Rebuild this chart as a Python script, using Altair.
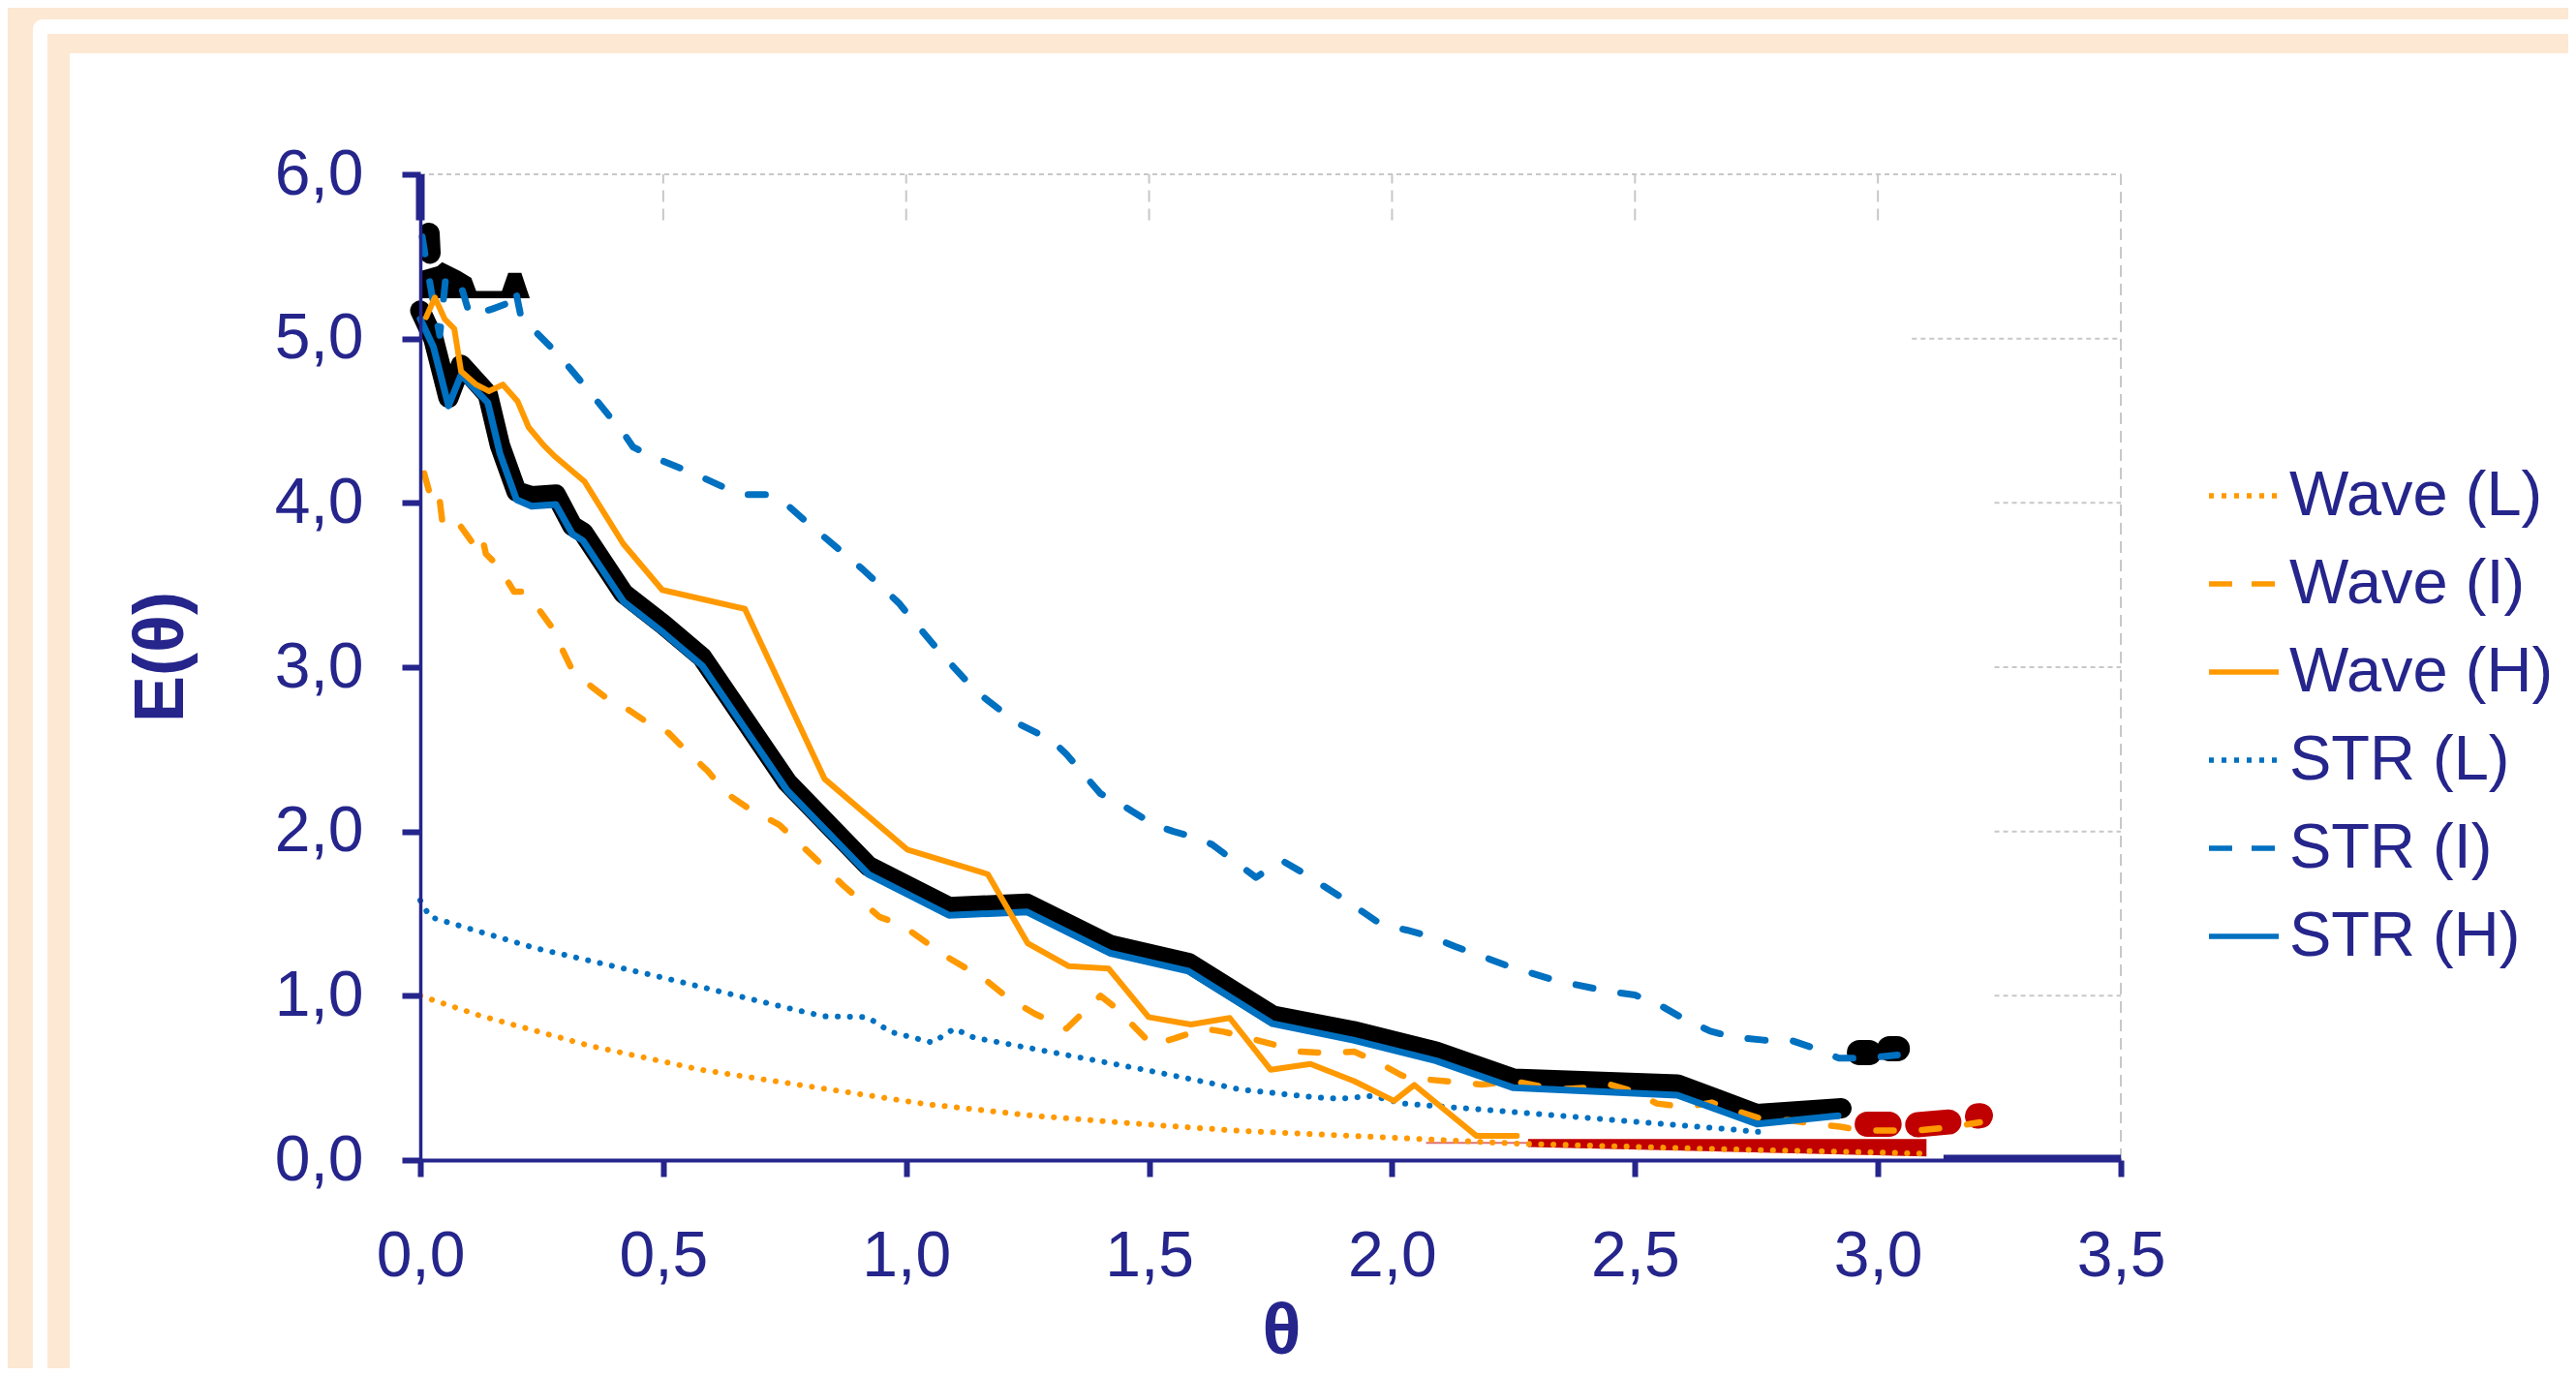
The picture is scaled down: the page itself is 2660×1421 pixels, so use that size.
import altair as alt
import pandas as pd

# ---------------- colours / fonts ----------------
NAVY = "#25258C"
ORANGE = "#FF9900"
BLUE = "#0070C0"
PEACH = "#FDE8D3"
GRID = "#C8C8C8"
RED = "#C00000"
FONT = "Liberation Sans"

series_names = ["Wave (L)", "Wave (I)", "Wave (H)", "STR (L)", "STR (I)", "STR (H)"]

# ---------------- data ----------------
wave_L_x = [0.0, 0.122, 0.351, 0.579, 0.808, 1.037, 1.265, 1.494, 1.686, 1.996, 2.26, 2.68, 3.09]
wave_L_y = [1.00, 0.88, 0.694, 0.549, 0.445, 0.342, 0.269, 0.217, 0.178, 0.137, 0.100, 0.066, 0.040]

wave_I_x = [0.008, 0.02, 0.033, 0.039, 0.046, 0.073, 0.109, 0.126, 0.135, 0.162, 0.193, 0.21, 0.242,
            0.269, 0.313, 0.353, 0.393, 0.429, 0.459, 0.511, 0.551, 0.591, 0.631, 0.671, 0.739, 0.808,
            0.871, 0.945, 0.991, 1.082, 1.162, 1.208, 1.265, 1.33, 1.40, 1.434, 1.506, 1.552, 1.613,
            1.655, 1.761, 1.811, 1.869, 1.922, 1.968, 2.017, 2.04, 2.074, 2.185, 2.25, 2.34, 2.40,
            2.445, 2.495, 2.545, 2.605, 2.658, 2.708, 2.758, 2.815, 2.865, 2.922, 2.968, 3.028, 3.075,
            3.15, 3.21]
wave_I_y = [4.18, 4.05, 4.00, 4.04, 3.87, 3.90, 3.75, 3.81, 3.69, 3.61, 3.46, 3.46, 3.36,
            3.25, 2.98, 2.88, 2.79, 2.74, 2.68, 2.60, 2.48, 2.37, 2.23, 2.15, 2.04, 1.85,
            1.67, 1.48, 1.43, 1.24, 1.10, 0.99, 0.89, 0.80, 1.00, 0.92, 0.70, 0.74, 0.80,
            0.78, 0.70, 0.66, 0.65, 0.66, 0.60, 0.52, 0.49, 0.49, 0.46, 0.48, 0.43, 0.44,
            0.463, 0.42, 0.344, 0.323, 0.35, 0.30, 0.253, 0.243, 0.223, 0.203, 0.18, 0.18, 0.178,
            0.20, 0.23]

wave_H_x = [0.012, 0.03, 0.05, 0.07, 0.084, 0.115, 0.141, 0.17, 0.20, 0.223, 0.254, 0.278, 0.338,
            0.418, 0.498, 0.668, 0.832, 1.002, 1.168, 1.25, 1.335, 1.417, 1.499, 1.586, 1.666,
            1.75, 1.832, 1.922, 2.004, 2.046, 2.174, 2.257]
wave_H_y = [5.13, 5.25, 5.12, 5.06, 4.80, 4.72, 4.68, 4.72, 4.62, 4.46, 4.35, 4.28, 4.13,
            3.75, 3.47, 3.355, 2.32, 1.89, 1.74, 1.32, 1.18, 1.165, 0.87, 0.825, 0.865,
            0.55, 0.585, 0.48, 0.36, 0.457, 0.147, 0.147]

str_L_x = [0.0, 0.02, 0.065, 0.237, 0.50, 0.75, 0.83, 0.92, 0.968, 1.054, 1.099, 1.14, 1.41, 1.49,
           1.624, 1.686, 1.838, 1.89, 1.96, 2.02, 2.39, 2.54, 2.70, 2.76]
str_L_y = [1.58, 1.48, 1.44, 1.29, 1.11, 0.93, 0.875, 0.87, 0.78, 0.715, 0.80, 0.745, 0.595, 0.55,
           0.47, 0.43, 0.383, 0.373, 0.39, 0.345, 0.26, 0.224, 0.186, 0.17]

str_I_x = [0.004, 0.012, 0.025, 0.04, 0.052, 0.068, 0.085, 0.102, 0.148, 0.175, 0.195, 0.208, 0.241,
           0.278, 0.308, 0.364, 0.424, 0.438, 0.478, 0.562, 0.651, 0.669, 0.713, 0.758, 0.80, 0.909,
           0.985, 1.01, 1.07, 1.123, 1.158, 1.228, 1.30, 1.33, 1.40, 1.44, 1.51, 1.55, 1.60, 1.63,
           1.72, 1.755, 1.775, 1.81, 1.89, 1.97, 2.00, 2.03, 2.08, 2.13, 2.24, 2.34, 2.45, 2.50,
           2.55, 2.60, 2.655, 2.70, 2.765, 2.82, 2.87, 2.92, 2.975, 3.04]
str_I_y = [5.62, 5.47, 5.25, 5.02, 5.36, 5.29, 5.31, 5.14, 5.18, 5.21, 5.31, 5.12, 5.03,
           4.92, 4.82, 4.62, 4.40, 4.34, 4.28, 4.18, 4.06, 4.05, 4.05, 3.98, 3.87, 3.60,
           3.39, 3.30, 3.09, 2.92, 2.82, 2.66, 2.555, 2.47, 2.23, 2.17, 2.04, 2.00, 1.96, 1.92,
           1.72, 1.79, 1.82, 1.76, 1.61, 1.45, 1.42, 1.40, 1.36, 1.30, 1.18, 1.09, 1.025, 1.005,
           0.945, 0.86, 0.785, 0.75, 0.73, 0.73, 0.68, 0.62, 0.62, 0.64]

str_H_x = [0.0, 0.027, 0.058, 0.084, 0.139, 0.164, 0.198, 0.229, 0.279, 0.313, 0.335, 0.418, 0.50,
           0.58, 0.755, 0.922, 1.088, 1.249, 1.419, 1.581, 1.754, 1.92, 2.09, 2.25, 2.587, 2.751, 2.918]
str_H_y = [5.12, 4.95, 4.59, 4.78, 4.61, 4.30, 4.02, 3.98, 3.99, 3.81, 3.77, 3.40, 3.21,
           3.01, 2.25, 1.74, 1.49, 1.51, 1.26, 1.15, 0.83, 0.73, 0.605, 0.44, 0.395, 0.22, 0.27]

# thick black band drawn behind STR (H)
black_x = [0.0, 0.027, 0.058, 0.084, 0.139, 0.164, 0.198, 0.229, 0.279, 0.313, 0.335, 0.418, 0.50,
           0.58, 0.755, 0.922, 1.088, 1.249, 1.419, 1.581, 1.754, 1.92, 2.09, 2.25, 2.587, 2.751, 2.925]
black_y = [5.17, 5.00, 4.64, 4.84, 4.66, 4.35, 4.07, 4.04, 4.05, 3.86, 3.82, 3.45, 3.26,
           3.06, 2.30, 1.79, 1.54, 1.56, 1.31, 1.20, 0.88, 0.785, 0.66, 0.495, 0.46, 0.28, 0.315]

# black blob on the axis near the start of STR (I)
black_blob_x = [0.018, 0.02]
black_blob_y = [5.64, 5.52]

# black band near the start of STR (I): top edge and flat bottom edge
black_band_x = [0.0, 0.035, 0.045, 0.082, 0.105, 0.115, 0.168, 0.181, 0.208, 0.218, 0.225]
black_band_top = [5.41, 5.44, 5.465, 5.41, 5.37, 5.29, 5.29, 5.40, 5.40, 5.31, 5.25]
black_band_bottom = [5.245] * 11

# black blobs at the end of STR (I)
black_end_seg = ["c", "c", "d", "d"]
black_end_x = [2.962, 2.982, 3.024, 3.04]
black_end_y = [0.654, 0.654, 0.678, 0.678]

# red blobs at the end of Wave (I)
red_seg = ["r1", "r1", "r2", "r2", "r3", "r3"]
red_x = [2.978, 3.023, 3.082, 3.146, 3.205, 3.211]
red_y = [0.218, 0.218, 0.215, 0.232, 0.268, 0.27]

# red band along the bottom
red_band_x = [2.28, 3.10]
red_band_top = [0.128, 0.128]
red_band_bottom = [0.08, 0.022]
pink_x = [2.07, 2.28]
pink_y = [0.105, 0.105]

# visible pieces of the grid
grid_h_y = [6, 5, 4, 3, 2, 1]
grid_h_x1 = [0, 3.07, 3.24, 3.24, 3.24, 3.24]
grid_h_x2 = [3.5, 3.5, 3.5, 3.5, 3.5, 3.5]
grid_v_x = [0.5, 1.0, 1.5, 2.0, 2.5, 3.0, 3.5]
grid_v_y1 = [5.72, 5.72, 5.72, 5.72, 5.72, 5.72, 0]
grid_v_y2 = [6, 6, 6, 6, 6, 6, 6]

x_ticks = [0, 0.5, 1.0, 1.5, 2.0, 2.5, 3.0, 3.5]
y_ticks = [0, 1, 2, 3, 4, 5, 6]

# ---------------- helpers ----------------
def line_df(xs, ys, seg=None):
    d = {"x": xs, "y": ys, "i": list(range(len(xs)))}
    if seg is not None:
        d["seg"] = seg
    return pd.DataFrame(d)

label_expr = "replace(format(datum.value, '.1f'), '.', ',')"
xscale = alt.Scale(domain=[0, 3.5], nice=False, zero=False)
yscale = alt.Scale(domain=[0, 6], nice=False, zero=False)

axis_x = alt.Axis(
    title="θ", values=x_ticks, labelExpr=label_expr, grid=False, zindex=1,
    domainColor=NAVY, domainWidth=4, tickColor=NAVY, tickWidth=6, tickSize=17,
    labelFont=FONT, labelFontSize=66, labelColor=NAVY, labelPadding=50,
    labelFlush=False, labelOverlap=False,
    titleFont=FONT, titleFontSize=74, titleFontWeight="bold", titleColor=NAVY,
    titleX=889, titleY=199, titleAlign="center", titleBaseline="alphabetic",
)
axis_y = alt.Axis(
    title="E(θ)", values=y_ticks, labelExpr=label_expr, grid=False, zindex=1,
    domainColor=NAVY, domainWidth=3.5, tickColor=NAVY, tickWidth=6, tickSize=19,
    labelFont=FONT, labelFontSize=66, labelColor=NAVY, labelPadding=40,
    labelFlush=False, labelOverlap=False,
    titleFont=FONT, titleFontSize=72, titleFontWeight="bold", titleColor=NAVY,
    titleAngle=270, titleX=-246, titleY=498, titleAlign="center", titleBaseline="alphabetic",
)
X = alt.X("x:Q", scale=xscale, axis=axis_x)
Y = alt.Y("y:Q", scale=yscale, axis=axis_y)

one = alt.Data(values=[{"k": 1}])

layers = []

# frame: white outer stripe, peach band, white inner panel
layers.append(alt.Chart(one).mark_rect(color="white", cornerRadius=10).encode(
    x=alt.value(-400), x2=alt.value(2400), y=alt.value(-160), y2=alt.value(1400)))
layers.append(alt.Chart(one).mark_rect(color=PEACH).encode(
    x=alt.value(-385), x2=alt.value(2400), y=alt.value(-145), y2=alt.value(1400)))
layers.append(alt.Chart(one).mark_rect(color="white").encode(
    x=alt.value(-362), x2=alt.value(2400), y=alt.value(-125), y2=alt.value(1235)))

# grid pieces
gh = pd.DataFrame({"x": grid_h_x1, "x2": grid_h_x2, "y": grid_h_y})
gv = pd.DataFrame({"x": grid_v_x, "y": grid_v_y1, "y2": grid_v_y2})
layers.append(alt.Chart(gh).mark_rule(color=GRID, strokeWidth=2, strokeDash=[5, 4]).encode(
    x=X, x2="x2:Q", y=Y))
layers.append(alt.Chart(gv).mark_rule(color=GRID, strokeWidth=2, strokeDash=[12, 7]).encode(
    x=X, y=Y, y2="y2:Q"))

# thicker pieces of the axis lines
layers.append(alt.Chart(pd.DataFrame({"x": [0], "y": [5.72], "y2": [6.0]})).mark_rule(
    color=NAVY, strokeWidth=9).encode(x=X, y=Y, y2="y2:Q"))
layers.append(alt.Chart(pd.DataFrame({"x": [3.135], "x2": [3.5], "y": [0.012]})).mark_rule(
    color=NAVY, strokeWidth=7).encode(x=X, x2="x2:Q", y=Y))

# red band and thin pink line
rb = pd.DataFrame({"x": red_band_x, "y": red_band_top, "y2": red_band_bottom})
layers.append(alt.Chart(rb).mark_area(color=RED).encode(x=X, y=Y, y2="y2:Q"))
layers.append(alt.Chart(line_df(pink_x, pink_y)).mark_line(color="#E07070", strokeWidth=2).encode(
    x=X, y=Y, order="i:Q"))

# black band behind STR (H)
layers.append(alt.Chart(line_df(black_x, black_y)).mark_line(
    color="black", strokeWidth=21, strokeCap="round", strokeJoin="round").encode(
    x=X, y=Y, order="i:Q"))
# black pieces near top-left
layers.append(alt.Chart(line_df(black_blob_x, black_blob_y)).mark_line(
    color="black", strokeWidth=22, strokeCap="round", clip=True).encode(
    x=X, y=Y, order="i:Q"))
bb = pd.DataFrame({"x": black_band_x, "y": black_band_top, "y2": black_band_bottom})
layers.append(alt.Chart(bb).mark_area(color="black").encode(x=X, y=Y, y2="y2:Q"))
# black blobs at STR (I) end
layers.append(alt.Chart(line_df(black_end_x, black_end_y, black_end_seg)).mark_line(
    color="black", strokeWidth=26, strokeCap="round").encode(
    x=X, y=Y, detail="seg:N", order="i:Q"))
# red blobs at Wave (I) end
layers.append(alt.Chart(line_df(red_x, red_y, red_seg)).mark_line(
    color=RED, strokeWidth=26, strokeCap="round").encode(
    x=X, y=Y, detail="seg:N", order="i:Q"))

DOT = [0.1, 12.5]
DASH = [18, 29]
series_data = {
    "Wave (L)": (wave_L_x, wave_L_y, ORANGE, DOT, 6),
    "STR (L)": (str_L_x, str_L_y, BLUE, DOT, 6),
    "Wave (I)": (wave_I_x, wave_I_y, ORANGE, DASH, 6.5),
    "STR (I)": (str_I_x, str_I_y, BLUE, DASH, 7),
    "STR (H)": (str_H_x, str_H_y, BLUE, None, 7),
    "Wave (H)": (wave_H_x, wave_H_y, ORANGE, None, 6),
}
for name, (xs, ys, col, dash, w) in series_data.items():
    kw = dict(color=col, strokeWidth=w, strokeCap="round", strokeJoin="round")
    if dash is not None:
        kw["strokeDash"] = dash
    layers.append(alt.Chart(line_df(xs, ys)).mark_line(**kw).encode(x=X, y=Y, order="i:Q"))

# legend (invisible lines, visible legend)
frames = []
for name in series_names:
    xs, ys = series_data[name][0], series_data[name][1]
    f = line_df(xs, ys)
    f["series"] = name
    frames.append(f)
leg_df = pd.concat(frames, ignore_index=True)

leg = alt.Legend(
    title=None, orient="none", legendX=1844, legendY=293, padding=0,
    symbolType="stroke", symbolSize=5184, symbolStrokeWidth=5.5, symbolOpacity=1,
    labelFont=FONT, labelFontSize=65, labelColor=NAVY, labelOffset=8, labelLimit=800,
    rowPadding=19,
)
layers.append(alt.Chart(leg_df).mark_line(opacity=0).encode(
    x=X, y=Y, order="i:Q",
    color=alt.Color("series:N", sort=series_names,
                    scale=alt.Scale(domain=series_names, range=[ORANGE] * 3 + [BLUE] * 3),
                    legend=leg),
    strokeDash=alt.StrokeDash("series:N", sort=series_names,
                              scale=alt.Scale(domain=series_names,
                                              range=[[5, 8], [24, 20], [1, 0], [5, 8], [24, 20], [1, 0]]),
                              legend=leg),
))

chart = alt.layer(*layers).properties(
    width=1756, height=1018,
    autosize=alt.AutoSizeParams(type="none"),
    padding={"left": 426, "top": 172, "right": 462, "bottom": 215},
    background=PEACH,
).configure_view(stroke=None)

chart.save("out.html", embed_options={"renderer": "svg", "actions": False})
